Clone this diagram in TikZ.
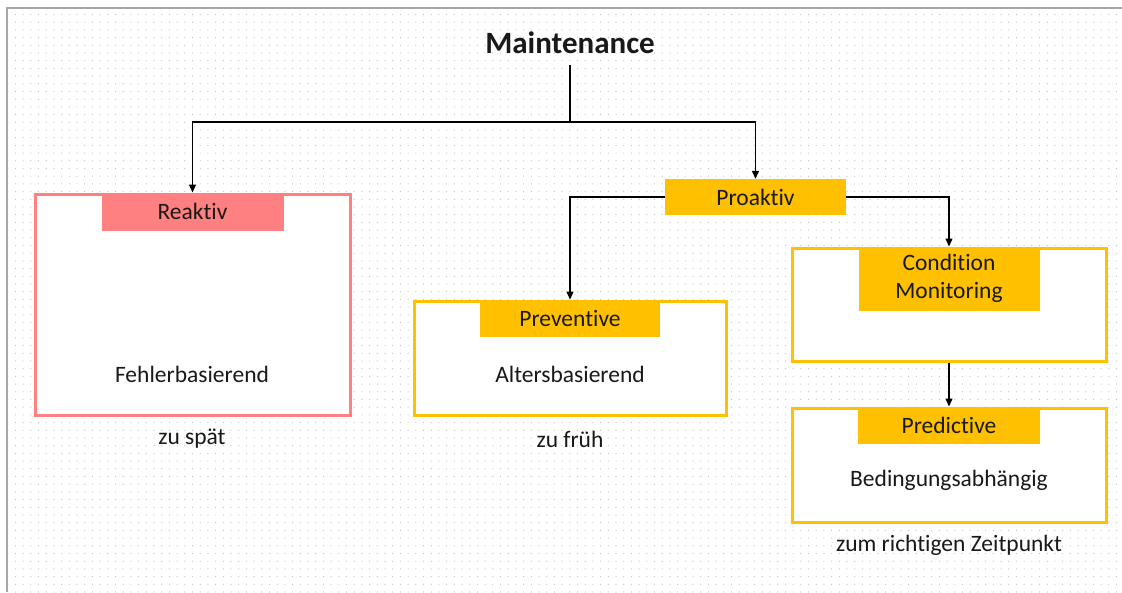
\documentclass[tikz,border=0pt]{standalone}
\usepackage{fontspec}
\setmainfont{Carlito}[Ligatures=NoCommon]
\usetikzlibrary{arrows.meta,patterns.meta}
\definecolor{pinkc}{HTML}{FF8080}
\definecolor{goldc}{HTML}{FFC000}
\definecolor{framec}{HTML}{A6A6A6}
\begin{document}
\begin{tikzpicture}[x=1pt,y=-1pt,
  every node/.style={font=\fontsize{23.5}{28}\selectfont, text=black!90},
  outerbox/.style={draw=#1, line width=3pt, fill=white, inner sep=0pt},
  headbox/.style={fill=#1, inner sep=0pt, anchor=north, align=center},
  conn/.style={line width=1.3pt, black},
  arr/.style={conn, -{Triangle[length=8pt,width=7pt]}}
]
\useasboundingbox (0,0) rectangle (1122,592);
\fill[white] (0,0) rectangle (1122,592);
\fill[pattern={Dots[distance=7.7pt,radius=0.6pt]}, pattern color=black!25] (8,9) rectangle (1122,592);
\draw[framec, line width=2pt] (7,592) -- (7,8) -- (1122,8);

% title
\node[font=\fontsize{31}{36}\selectfont\bfseries] (maint) at (570,43) {Maintenance};
\coordinate (mtop) at (570,65);
\coordinate (split) at (570,122);

% Reaktiv
\node[outerbox=pinkc, minimum width=315pt, minimum height=221pt] (reabox) at (192.5,304.5) {};
\node[headbox=pinkc, minimum width=182pt, minimum height=38pt] (reahead) at (reabox.north) {Reaktiv};
\node (reatext) at (192,374) {Fehlerbasierend};
\node (reanote) at (192,439) {zu spät};

% Proaktiv
\node[fill=goldc, inner sep=0pt, minimum width=181pt, minimum height=36pt] (proaktiv) at (755.5,197) {Proaktiv};

% Preventive
\node[outerbox=goldc, minimum width=312pt, minimum height=114pt] (prevbox) at (570,358) {};
\node[headbox=goldc, minimum width=180pt, minimum height=37pt] (prevhead) at (prevbox.north) {Preventive};
\node (prevtext) at (570,374) {Altersbasierend};
\node (prevnote) at (570,439) {zu früh};

% Condition Monitoring
\node[outerbox=goldc, minimum width=314pt, minimum height=113pt] (condbox) at (949,304.5) {};
\node[headbox=goldc, minimum width=181pt, minimum height=64pt, font=\fontsize{23.5}{28}\selectfont] (condhead) at (condbox.north) {Condition\\Monitoring};

% Predictive
\node[outerbox=goldc, minimum width=314pt, minimum height=114pt] (predbox) at (949,465) {};
\node[headbox=goldc, minimum width=182pt, minimum height=37pt] (predhead) at (predbox.north) {Predictive};
\node (predtext) at (949,480) {Bedingungsabhängig};
\node (prednote) at (949,545) {zum richtigen Zeitpunkt};

% connectors
\draw[conn] (mtop) -- (split);
\draw[arr] (split) -| (reabox.north);
\draw[arr] (split) -| (proaktiv.north);
\draw[arr] (proaktiv.west) -| (prevbox.north);
\draw[arr] (proaktiv.east) -| (condbox.north);
\draw[arr] (condbox.south) -- (predbox.north);
\end{tikzpicture}
\end{document}
